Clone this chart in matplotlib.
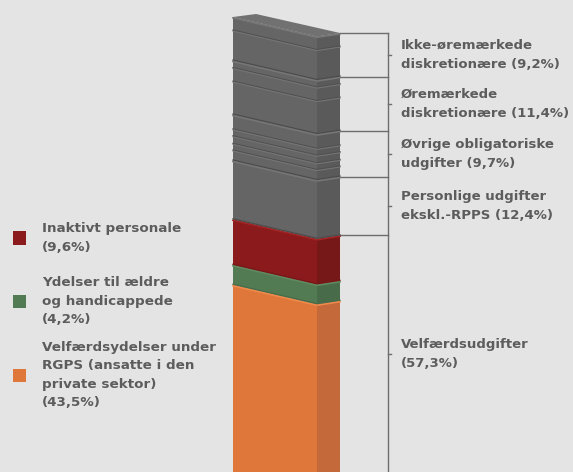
import matplotlib
matplotlib.use("Agg")
import matplotlib.pyplot as plt
from matplotlib.patches import Polygon, Rectangle

# ---------------- data ----------------
segment_names = ["Velfærdsydelser under RGPS", "Ydelser til ældre og handicappede",
                 "Inaktivt personale", "Personlige udgifter ekskl.-RPPS",
                 "Øvrige obligatoriske udgifter", "Øremærkede diskretionære",
                 "Ikke-øremærkede diskretionære"]
segment_values = [43.5, 4.2, 9.6, 12.4, 9.7, 11.4, 9.2]

legend_labels = ["Inaktivt personale\n(9,6%)",
                 "Ydelser til ældre\nog handicappede\n(4,2%)",
                 "Velfærdsydelser under\nRGPS (ansatte i den\nprivate sektor)\n(43,5%)"]

group_values = [57.3, 12.4, 9.7, 11.4, 9.2]
group_labels = ["Velfærdsudgifter\n(57,3%)",
                "Personlige udgifter\nekskl.-RPPS (12,4%)",
                "Øvrige obligatoriske\nudgifter (9,7%)",
                "Øremærkede\ndiskretionære (11,4%)",
                "Ikke-øremærkede\ndiskretionære (9,2%)"]

# ---------------- style ----------------
BG = "#e4e4e4"
TXT = "#5c5c5c"
front_cols = ["#e0773a", "#527a53", "#8a1a1b", "#656565", "#656565", "#656565", "#656565"]
side_cols = ["#c4693a", "#486b49", "#761718", "#5a5a5a", "#5a5a5a", "#5a5a5a", "#5a5a5a"]
hi_cols = ["#f08a4c", "#5f8a60", "#a22424", "#767676", "#767676", "#767676", "#767676"]
ridges = [[], [], [], [], [0.31, 0.46, 0.625, 0.77], [0.13, 0.38], [0.30]]
legend_cols = ["#8a1a1b", "#527a53", "#e0773a"]
legend_ypx = [238, 301, 375]

W, H = 573, 472
k = 4.74            # pixels per percent
top_px = 33         # pixel row of the 100 % boundary (side edge)
x0, x1, x2 = 233, 317, 340
dL, dR = 16 / k, 3.5 / k

fig = plt.figure(figsize=(W / 100, H / 100), dpi=100)
fig.patch.set_facecolor(BG)
ax = fig.add_axes([0, 0, 1, 1])
ax.set_facecolor(BG)
ax.set_xlim(0, W)
y_hi = 100 + top_px / k
y_lo = 100 - (H - top_px) / k
ax.set_ylim(y_lo, y_hi)
ax.axis("off")

bounds = [0]
for v in segment_values:
    bounds.append(bounds[-1] + v)
bounds[-1] = 100.0

def edge(v, dy=0.0):
    return [(x0, v + dL + dy), (x1, v - dR + dy), (x2, v + dy)]

for i, v in enumerate(segment_values):
    lo, hi = bounds[i], bounds[i + 1]
    front = [(x0, lo + dL), (x1, lo - dR), (x1, hi - dR), (x0, hi + dL)]
    side = [(x1, lo - dR), (x2, lo), (x2, hi), (x1, hi - dR)]
    ax.add_patch(Polygon(front, closed=True, fc=front_cols[i], ec="none", zorder=2))
    ax.add_patch(Polygon(side, closed=True, fc=side_cols[i], ec="none", zorder=2))
    # top bevel highlight and bottom shadow
    e = edge(hi, -0.9 / k)
    ax.plot([p[0] for p in e], [p[1] for p in e], color=hi_cols[i], lw=1.2, zorder=3)
    e = edge(lo, 0.6 / k)
    ax.plot([p[0] for p in e], [p[1] for p in e], color="#4c4c4c" if i >= 3 else side_cols[i], lw=0.9, zorder=3)
    for f in ridges[i]:
        r = hi - f * (hi - lo)
        e = edge(r)
        ax.plot([p[0] for p in e], [p[1] for p in e], color="#505050", lw=0.9, zorder=3)
        e = edge(r, -1.0 / k)
        ax.plot([p[0] for p in e], [p[1] for p in e], color="#747474", lw=0.8, zorder=3)

# top face
ax.add_patch(Polygon([(x0, 100 + dL), (x0 + 23, 100 + dL + 3 / k), (x2, 100), (x1, 100 - dR)],
                     closed=True, fc="#717171", ec="none", zorder=2))

# brackets
bx = 388
LC = "#6e6e6e"
ax.plot([bx, bx], [y_lo, 100], color=LC, lw=1.0, zorder=1)
gb = [0]
for v in group_values:
    gb.append(gb[-1] + v)
gb[-1] = 100.0
for j, lab in enumerate(group_labels):
    lo, hi = gb[j], gb[j + 1]
    ax.plot([x2, bx], [hi, hi], color=LC, lw=1.0, zorder=1)
    mid = (max(lo, y_lo) + hi) / 2
    ax.plot([bx, bx + 3], [mid, mid], color=LC, lw=1.0, zorder=1)
    ax.text(401, mid, lab, ha="left", va="center", fontsize=9.5, fontweight="bold",
            color=TXT, family="DejaVu Sans", linespacing=1.58)

# left legend
for lab, c, ypx in zip(legend_labels, legend_cols, legend_ypx):
    yc = 1 - ypx / H
    ax.add_patch(Rectangle((13 / W, yc - 6.5 / H), 13 / W, 13 / H, transform=ax.transAxes,
                           fc=c, ec="none"))
    ax.text(42 / W, yc, lab, transform=ax.transAxes, ha="left", va="center",
            fontsize=9.7, fontweight="bold", color=TXT, family="DejaVu Sans", linespacing=1.52)

fig.savefig("out.png", dpi=100, facecolor=BG)
